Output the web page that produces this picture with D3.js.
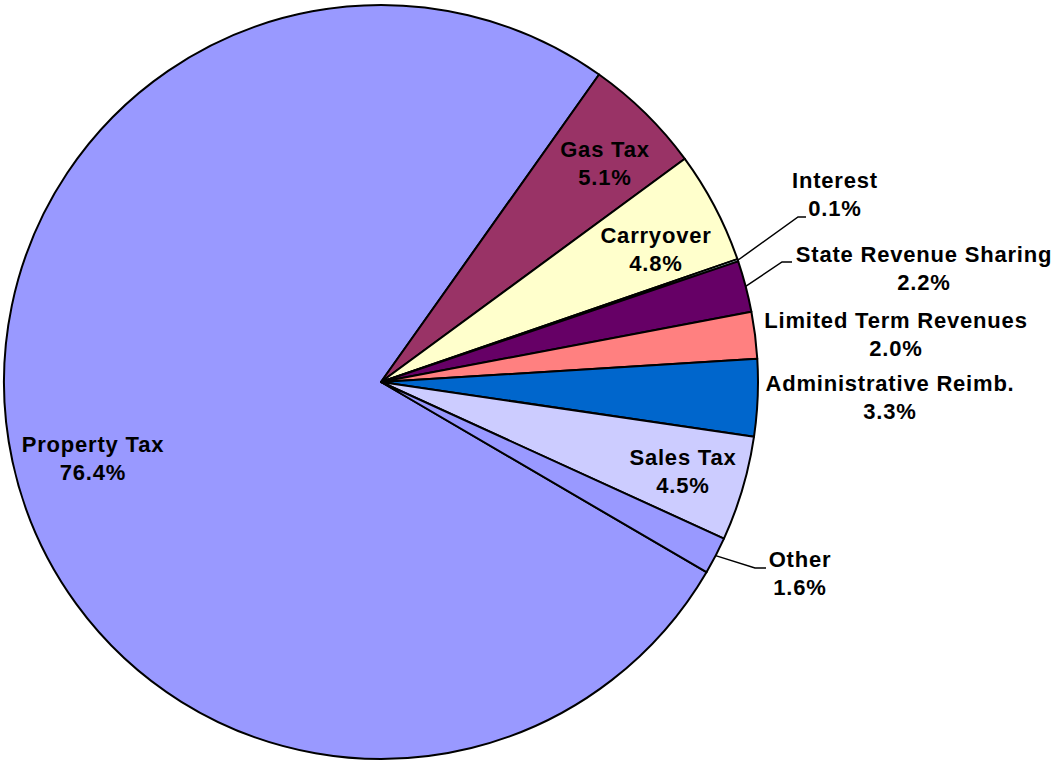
<!DOCTYPE html>
<html>
<head>
<meta charset="utf-8">
<script src="https://cdn.jsdelivr.net/npm/d3@7"></script>
<style>
  html, body { margin: 0; padding: 0; background: #fff; }
  text { font-family: "Liberation Sans", Arial, sans-serif; font-weight: bold; font-size: 22px; letter-spacing: 0.8px; fill: #000; }
</style>
</head>
<body>
<div id="chart"></div>
<script>
// Revenue sources, in the order Excel drew them (clockwise).
const labels = ["Property Tax", "Gas Tax", "Carryover", "Interest", "State Revenue Sharing",
                "Limited Term Revenues", "Administrative Reimb.", "Sales Tax", "Other"];
const values = [76.4, 5.1, 4.8, 0.1, 2.2, 2.0, 3.3, 4.5, 1.6];
const colors = ["#9999FF", "#993366", "#FFFFCC", "#CCFFFF", "#660066",
                "#FF8080", "#0066CC", "#CCCCFF", "#9999FF"];

// Label placement (center x, first baseline) and leader elbows, layout only.
const labelLayout = {
  "Property Tax":          { x: 93,  y: 452 },
  "Gas Tax":               { x: 605, y: 157 },
  "Carryover":             { x: 656, y: 243 },
  "Interest":              { x: 835, y: 188, elbow: [[798, 217], [806, 217]] },
  "State Revenue Sharing": { x: 924, y: 262, elbow: [[782, 262], [792, 262]] },
  "Limited Term Revenues": { x: 896, y: 328 },
  "Administrative Reimb.": { x: 890, y: 391 },
  "Sales Tax":             { x: 683, y: 465 },
  "Other":                 { x: 800, y: 567, elbow: [[755, 568], [766, 568]] }
};

const width = 1055, height = 762;
const cx = 381, cy = 382, radius = 377;
const lineGap = 28;

const data = labels.map((label, i) => ({ label, value: values[i], color: colors[i] }));

const svg = d3.select("#chart").append("svg")
  .attr("width", width)
  .attr("height", height);

svg.append("rect").attr("width", width).attr("height", height).attr("fill", "#fff");

const g = svg.append("g").attr("transform", `translate(${cx},${cy})`);

// Property Tax begins a bit past 4 o'clock, as in the original.
const start = 120.3 * Math.PI / 180;
const pie = d3.pie()
  .sort(null)
  .value(d => d.value)
  .startAngle(start)
  .endAngle(start + 2 * Math.PI);

const arcs = pie(data);
const arc = d3.arc().innerRadius(0).outerRadius(radius);
const edge = d3.arc().innerRadius(radius).outerRadius(radius);

g.selectAll("path.slice")
  .data(arcs)
  .enter().append("path")
  .attr("class", "slice")
  .attr("d", arc)
  .attr("fill", d => d.data.color)
  .attr("stroke", "#000")
  .attr("stroke-width", 2)
  .attr("stroke-linejoin", "round");

// Leader lines for the small outside labels.
arcs.filter(d => labelLayout[d.data.label].elbow).forEach(d => {
  const p0 = edge.centroid(d);
  const pts = [[p0[0] + cx, p0[1] + cy], ...labelLayout[d.data.label].elbow];
  svg.append("path")
    .attr("d", d3.line()(pts))
    .attr("fill", "none")
    .attr("stroke", "#000")
    .attr("stroke-width", 1.5);
});

// Two-line labels: name and percentage.
arcs.forEach(d => {
  const pos = labelLayout[d.data.label];
  const t = svg.append("text")
    .attr("text-anchor", "middle")
    .attr("x", pos.x)
    .attr("y", pos.y);
  t.append("tspan").attr("x", pos.x).text(d.data.label);
  t.append("tspan").attr("x", pos.x).attr("dy", lineGap).text(d3.format(".1f")(d.data.value) + "%");
});
</script>
</body>
</html>
